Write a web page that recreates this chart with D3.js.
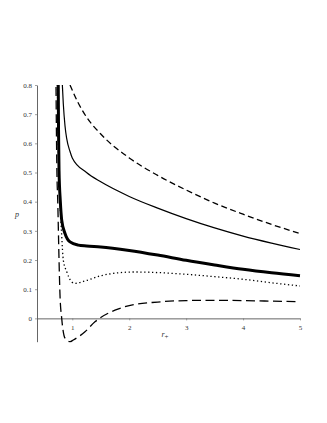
<!DOCTYPE html>
<html>
<head>
<meta charset="utf-8">
<script src="https://cdn.jsdelivr.net/npm/d3@7"></script>
<style>
  body { margin: 0; background: #fff; }
  svg { display: block; }
</style>
</head>
<body>
<div id="chart"></div>
<script>
(function(){

  var width = 327;
  var height = 423;

  // r+ and p values, one pair of arrays per curve
  var rDash = [0.96, 1.1, 1.25, 1.5, 2, 2.5, 3, 3.5, 4, 4.5, 5];
  var pDash = [0.80, 0.74, 0.69, 0.632, 0.55, 0.49, 0.44, 0.395, 0.357, 0.322, 0.291];

  var rThin = [0.815, 0.842, 0.872, 0.902, 0.96, 1.0, 1.25, 1.5, 2, 2.5, 3, 3.5, 4, 4.5, 5];
  var pThin = [0.84, 0.736, 0.66, 0.616, 0.572, 0.55, 0.50, 0.468, 0.418, 0.378, 0.342, 0.31, 0.282, 0.258, 0.236];

  var rThick = [0.752, 0.758, 0.767, 0.79, 0.814, 0.872, 0.96, 1.105, 1.25, 1.5, 2, 2.5, 3, 3.5, 4, 4.5, 5];
  var pThick = [0.84, 0.65, 0.508, 0.40, 0.337, 0.291, 0.262, 0.251, 0.248, 0.245, 0.233, 0.217, 0.199, 0.183, 0.168, 0.156, 0.146];

  var rDot = [0.735, 0.76, 0.784, 0.815, 0.842, 0.902, 0.989, 1.047, 1.25, 1.5, 1.8, 2.1, 2.5, 3, 3.5, 4, 4.5, 5];
  var pDot = [0.84, 0.55, 0.405, 0.28, 0.2, 0.16, 0.125, 0.12, 0.13, 0.146, 0.156, 0.159, 0.157, 0.151, 0.143, 0.134, 0.122, 0.111];

  var rLong = [0.712, 0.73, 0.744, 0.767, 0.784, 0.814, 0.872, 0.96, 1.018, 1.223, 1.398, 1.5, 1.75, 2, 2.5, 3, 3.5, 4, 4.5, 5];
  var pLong = [0.84, 0.5, 0.405, 0.2, 0.08, 0.0, -0.068, -0.08, -0.074, -0.046, -0.012, 0.003, 0.028, 0.044, 0.056, 0.061, 0.062, 0.061, 0.059, 0.057];

  var xTicks = [1, 2, 3, 4, 5];
  var yTicks = [0, 0.1, 0.2, 0.3, 0.4, 0.5, 0.6, 0.7, 0.8];

  var serif = '"Liberation Serif", "DejaVu Serif", serif';

  var svg = d3.select('#chart')
        .append('svg')
        .attr('width', width)
        .attr('height', height);

  svg.append('rect')
    .attr('width', width)
    .attr('height', height)
    .attr('fill', '#fff');

  var x = d3.scaleLinear().domain([0.38, 5]).range([37, 300]);
  var y = d3.scaleLinear().domain([-0.08, 0.8]).range([341.7, 85]);

  svg.append('clipPath')
    .attr('id', 'plotClip')
    .append('rect')
      .attr('x', x(0.38))
      .attr('y', y(0.8))
      .attr('width', x(5) - x(0.38) + 1)
      .attr('height', y(-0.08) - y(0.8) + 1);

  // axes
  var xAxis = svg.append('g')
      .attr('transform', 'translate(0,' + y(0) + ')')
      .call(d3.axisBottom(x).tickValues(xTicks).tickSize(2).tickSizeOuter(0)
        .tickFormat(d3.format('d')));

  var yAxis = svg.append('g')
      .attr('transform', 'translate(' + x(0.38) + ',0)')
      .call(d3.axisLeft(y).tickValues(yTicks).tickSize(2).tickSizeOuter(0)
        .tickFormat(function(d){ return d === 0 ? '0' : d.toFixed(1); }));

  [xAxis, yAxis].forEach(function(g){
    g.attr('font-family', serif).attr('font-size', 7);
    g.select('.domain').attr('stroke', '#555').attr('stroke-width', 0.9);
    g.selectAll('.tick line').attr('stroke', '#777').attr('stroke-width', 0.7);
    g.selectAll('.tick text').attr('fill', '#333');
  });
  xAxis.selectAll('.tick text').attr('dy', '0.9em');

  svg.append('text')
    .attr('x', 17)
    .attr('y', 217)
    .attr('text-anchor', 'middle')
    .attr('font-family', serif)
    .attr('font-style', 'italic')
    .attr('font-size', 8)
    .attr('fill', '#333')
    .text('p');

  var rLabel = svg.append('text')
    .attr('x', 165)
    .attr('y', 337)
    .attr('text-anchor', 'middle')
    .attr('font-family', serif)
    .attr('font-size', 8)
    .attr('fill', '#333');
  rLabel.append('tspan').attr('font-style', 'italic').text('r');
  rLabel.append('tspan').attr('font-size', 7).attr('dy', 2).text('+');

  // curves
  var curves = [
    { r: rDash,  p: pDash,  width: 1.3, dash: '6,3.5' },
    { r: rThin,  p: pThin,  width: 1.2, dash: null },
    { r: rThick, p: pThick, width: 3,   dash: null },
    { r: rDot,   p: pDot,   width: 1.3, dash: '1.3,2.6' },
    { r: rLong,  p: pLong,  width: 1.3, dash: '9,4.5' }
  ];

  var line = d3.line()
      .x(function(d){ return x(d[0]); })
      .y(function(d){ return y(d[1]); })
      .curve(d3.curveMonotoneX);

  var plot = svg.append('g').attr('clip-path', 'url(#plotClip)');

  plot.selectAll('path')
    .data(curves)
    .enter()
    .append('path')
      .attr('d', function(c){ return line(c.r.map(function(v, i){ return [v, c.p[i]]; })); })
      .attr('fill', 'none')
      .attr('stroke', '#000')
      .attr('stroke-width', function(c){ return c.width; })
      .attr('stroke-dasharray', function(c){ return c.dash; });

})();
</script>
</body>
</html>
